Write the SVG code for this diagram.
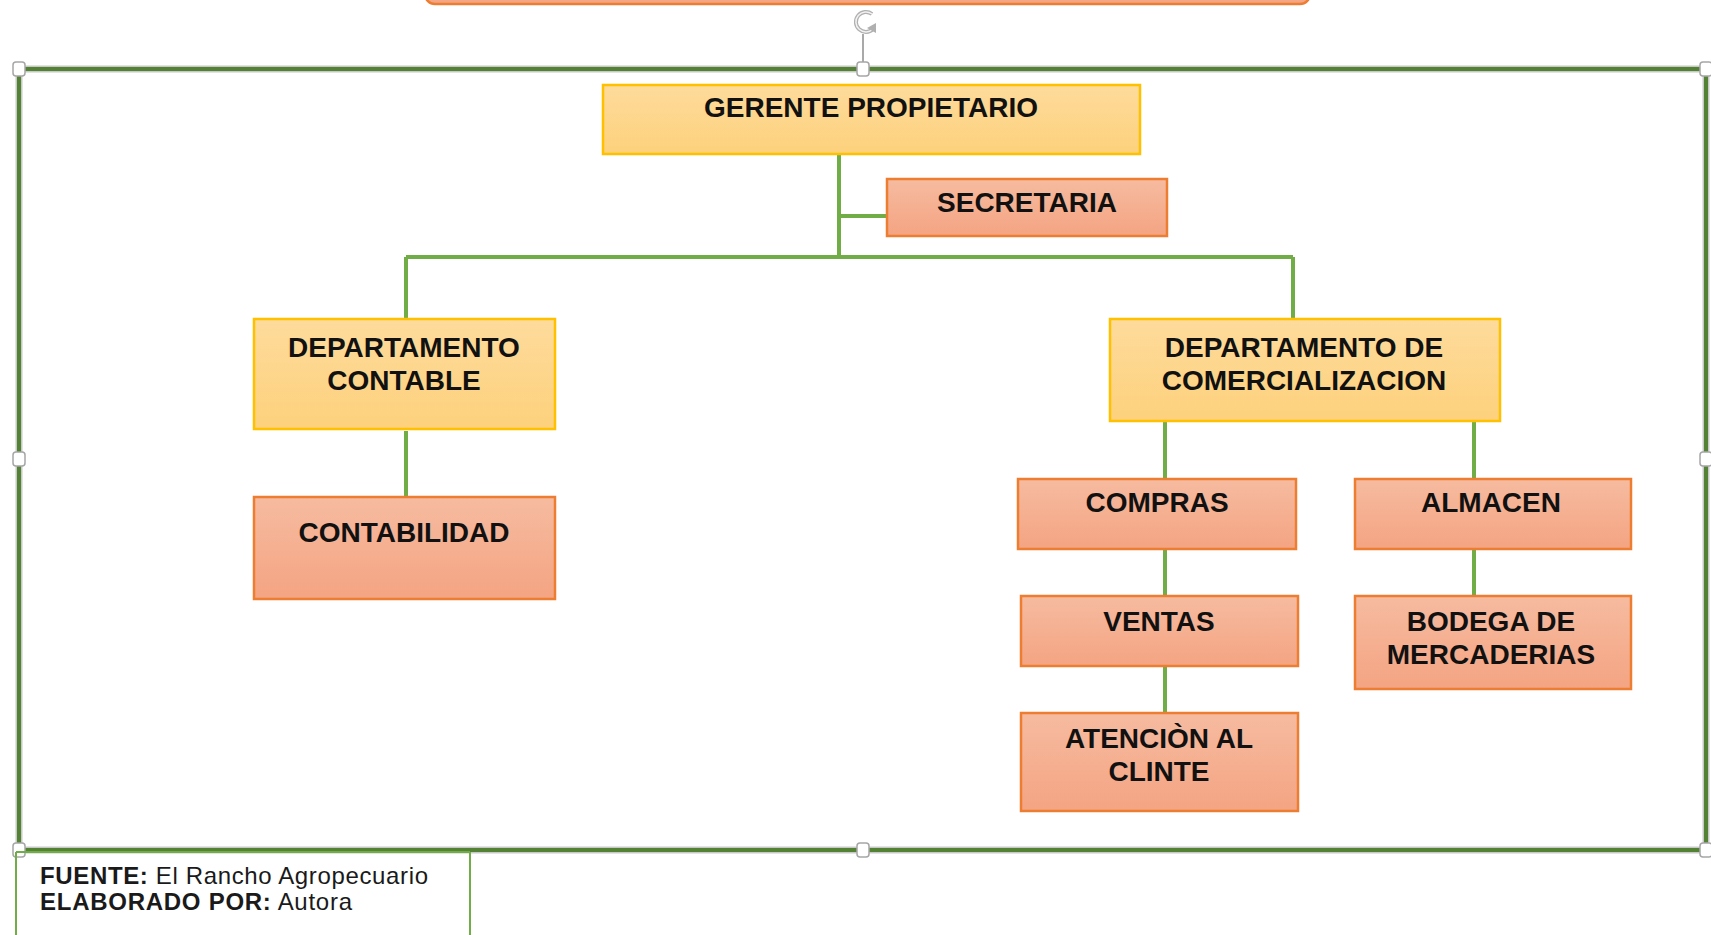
<svg xmlns="http://www.w3.org/2000/svg" width="1711" height="935" viewBox="0 0 1711 935">
<defs>
<linearGradient id="gGold" x1="0" y1="0" x2="0" y2="1"><stop offset="0" stop-color="#fedb9c"/><stop offset="1" stop-color="#fdd17c"/></linearGradient>
<linearGradient id="gOrange" x1="0" y1="0" x2="0" y2="1"><stop offset="0" stop-color="#f6bba0"/><stop offset="1" stop-color="#f4a482"/></linearGradient>
</defs>
<style>
.gold{fill:url(#gGold);stroke:#ffc000;stroke-width:2.5}
.orange{fill:url(#gOrange);stroke:#ed7d31;stroke-width:2.5}
.lbl{font-family:"Liberation Sans",Arial,sans-serif;font-weight:bold;font-size:28px;fill:#111;text-anchor:middle}
.conn{stroke:#70ad47;stroke-width:4;fill:none}
.handle{fill:#fff;stroke:#a6a6a6;stroke-width:1.5}
.foot{font-family:"Liberation Sans",Arial,sans-serif;font-size:24px;fill:#1a1a1a}
</style>
<rect width="1711" height="935" fill="#fff"/>

<!-- partial shape at top -->
<g id="top-shape">
<rect x="425" y="-30" width="885" height="34" rx="10" fill="url(#gOrange)" stroke="#ed7d31" stroke-width="2.5"/>
</g>

<!-- selection frame -->
<g id="frame">
<rect x="19" y="69" width="1687" height="781" fill="none" stroke="#c8c8c8" stroke-width="7"/>
<rect x="19" y="69" width="1687" height="781" fill="none" stroke="#548235" stroke-width="4"/>
<line x1="863" y1="34" x2="863" y2="64" stroke="#8c8c8c" stroke-width="1.5"/>
<path d="M872 14 A10 10 0 1 0 873 29" fill="none" stroke="#b0b0b0" stroke-width="4"/>
<path d="M872 14 A10 10 0 1 0 873 29" fill="none" stroke="#f2f2f2" stroke-width="1.5"/>
<path d="M867 28 L876 33 L876 23 Z" fill="#b0b0b0"/>
<rect class="handle" x="13" y="62" width="12" height="14" rx="3"/>
<rect class="handle" x="857" y="62" width="12" height="14" rx="3"/>
<rect class="handle" x="1700" y="62" width="12" height="14" rx="3"/>
<rect class="handle" x="13" y="452" width="12" height="14" rx="3"/>
<rect class="handle" x="1700" y="452" width="12" height="14" rx="3"/>
<rect class="handle" x="13" y="843" width="12" height="14" rx="3"/>
<rect class="handle" x="857" y="843" width="12" height="14" rx="3"/>
<rect class="handle" x="1700" y="843" width="12" height="14" rx="3"/>
</g>

<!-- connectors -->
<g id="connectors">
<path class="conn" d="M839 152 V257"/>
<path class="conn" d="M839 216 H887"/>
<path class="conn" d="M406 257 H1293"/>
<path class="conn" d="M406 257 V319"/>
<path class="conn" d="M1293 257 V319"/>
<path class="conn" d="M406 431 V497"/>
<path class="conn" d="M1165 421 V479"/>
<path class="conn" d="M1474 421 V479"/>
<path class="conn" d="M1165 545 V598"/>
<path class="conn" d="M1165 664 V715"/>
<path class="conn" d="M1474 545 V598"/>
</g>

<g id="gerente">
<rect class="gold" x="603" y="85" width="537" height="69"/>
<text class="lbl" x="871" y="117">GERENTE PROPIETARIO</text>
</g>
<g id="secretaria">
<rect class="orange" x="887" y="179" width="280" height="57"/>
<text class="lbl" x="1027" y="212">SECRETARIA</text>
</g>
<g id="dep-contable">
<rect class="gold" x="254" y="319" width="301" height="110"/>
<text class="lbl" x="404" y="357">DEPARTAMENTO</text>
<text class="lbl" x="404" y="390">CONTABLE</text>
</g>
<g id="contabilidad">
<rect class="orange" x="254" y="497" width="301" height="102"/>
<text class="lbl" x="404" y="542">CONTABILIDAD</text>
</g>
<g id="dep-comercializacion">
<rect class="gold" x="1110" y="319" width="390" height="102"/>
<text class="lbl" x="1304" y="357">DEPARTAMENTO DE</text>
<text class="lbl" x="1304" y="390">COMERCIALIZACION</text>
</g>
<g id="compras">
<rect class="orange" x="1018" y="479" width="278" height="70"/>
<text class="lbl" x="1157" y="512">COMPRAS</text>
</g>
<g id="almacen">
<rect class="orange" x="1355" y="479" width="276" height="70"/>
<text class="lbl" x="1491" y="512">ALMACEN</text>
</g>
<g id="ventas">
<rect class="orange" x="1021" y="596" width="277" height="70"/>
<text class="lbl" x="1159" y="631">VENTAS</text>
</g>
<g id="bodega">
<rect class="orange" x="1355" y="596" width="276" height="93"/>
<text class="lbl" x="1491" y="631">BODEGA DE</text>
<text class="lbl" x="1491" y="664">MERCADERIAS</text>
</g>
<g id="atencion">
<rect class="orange" x="1021" y="713" width="277" height="98"/>
<text class="lbl" x="1159" y="748">ATENCIÒN AL</text>
<text class="lbl" x="1159" y="781">CLINTE</text>
</g>

<!-- footer text box -->
<g id="footer">
<path d="M16 852 V935 M470 852 V935 M16 852 H470" fill="none" stroke="#70ad47" stroke-width="2"/>
<text class="foot" x="40" y="884" textLength="388" lengthAdjust="spacing"><tspan font-weight="bold">FUENTE:</tspan> El Rancho Agropecuario</text>
<text class="foot" x="40" y="910" textLength="312" lengthAdjust="spacing"><tspan font-weight="bold">ELABORADO POR:</tspan> Autora</text>
</g>
</svg>
